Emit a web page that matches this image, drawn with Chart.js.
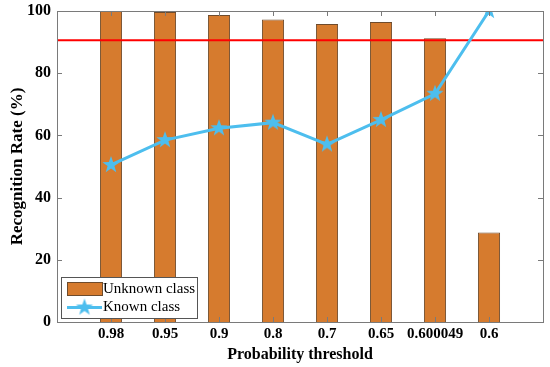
<!DOCTYPE html>
<html>
<head>
<meta charset="utf-8">
<script src="https://cdn.jsdelivr.net/npm/chart.js@4/dist/chart.umd.min.js"></script>
<style>
  html, body { margin: 0; padding: 0; background: #fff; }
  #wrap { width: 550px; height: 367px; }
</style>
</head>
<body>
<div id="wrap"><canvas id="recognitionChart" width="550" height="367"></canvas></div>
<script>
const thresholds = ["0.98", "0.95", "0.9", "0.8", "0.7", "0.65", "0.600049", "0.6"];
const unknownRate = [100, 99.7, 98.7, 97.3, 95.8, 96.5, 91.2, 28.8];
const knownRate = [50.5, 58.5, 62.3, 64.1, 57.1, 65.0, 73.4, 100];
const referenceRate = 90.6;
const yTicks = [0, 20, 40, 60, 80, 100];

const barColor = "#D67B2E";
const barEdge = "#6E4B2C";
const lineColor = "#4DBEEE";
const axisColor = "#7a7a7a";
const serif = "'Liberation Serif', 'Times New Roman', serif";

// filled pentagram marker, like matlab's 'p'
function makeStar(r, color) {
    const c = document.createElement("canvas");
    const s = Math.ceil(r * 2 + 2);
    c.width = s;
    c.height = s;
    const g = c.getContext("2d");
    g.beginPath();
    for (let i = 0; i < 10; i++) {
        const rad = i % 2 === 0 ? r : r * 0.4;
        const a = -Math.PI / 2 + i * Math.PI / 5;
        const px = s / 2 + rad * Math.cos(a);
        const py = s / 2 + rad * Math.sin(a);
        if (i === 0) g.moveTo(px, py); else g.lineTo(px, py);
    }
    g.closePath();
    g.fillStyle = color;
    g.fill();
    return c;
}
const starMarker = makeStar(9, lineColor);

// position on x axis: categories sit at 1..n, axis runs 0..n+1
const xPos = thresholds.map((_, i) => i + 1);

// inner tick marks on all four sides + box
const boxTicks = {
    id: "boxTicks",
    afterDraw(chart) {
        const { ctx, chartArea: a, scales } = chart;
        ctx.save();
        ctx.strokeStyle = axisColor;
        ctx.lineWidth = 1;
        ctx.strokeRect(a.left + 0.5, a.top + 0.5, a.right - a.left, a.bottom - a.top);
        ctx.beginPath();
        yTicks.forEach(v => {
            const y = Math.round(scales.y.getPixelForValue(v)) + 0.5;
            ctx.moveTo(a.left, y); ctx.lineTo(a.left + 5, y);
            ctx.moveTo(a.right, y); ctx.lineTo(a.right - 5, y);
        });
        xPos.forEach(v => {
            const x = Math.round(scales.x.getPixelForValue(v)) + 0.5;
            ctx.moveTo(x, a.bottom); ctx.lineTo(x, a.bottom - 5);
            ctx.moveTo(x, a.top); ctx.lineTo(x, a.top + 5);
        });
        ctx.stroke();
        ctx.restore();
    }
};

// legend box inside the axes, bottom left
const boxLegend = {
    id: "boxLegend",
    afterDraw(chart) {
        const { ctx, chartArea: a } = chart;
        const ds = chart.data.datasets;
        const x0 = a.left + 4, y0 = a.bottom - 45, w = 136, h = 41;
        ctx.save();
        ctx.fillStyle = "#fff";
        ctx.fillRect(x0, y0, w, h);
        ctx.strokeStyle = "#555";
        ctx.lineWidth = 1;
        ctx.strokeRect(x0 + 0.5, y0 + 0.5, w, h);

        ctx.fillStyle = ds[0].backgroundColor;
        ctx.fillRect(x0 + 6, y0 + 5, 35, 13);
        ctx.strokeStyle = ds[0].borderColor;
        ctx.strokeRect(x0 + 6.5, y0 + 5.5, 35, 13);

        const ly = y0 + 30.5;
        ctx.strokeStyle = ds[1].borderColor;
        ctx.lineWidth = 3;
        ctx.beginPath();
        ctx.moveTo(x0 + 6, ly); ctx.lineTo(x0 + 41, ly);
        ctx.stroke();
        ctx.drawImage(starMarker, x0 + 23.5 - starMarker.width / 2, ly - starMarker.height / 2);

        ctx.fillStyle = "#000";
        ctx.font = "15px " + serif;
        ctx.textBaseline = "middle";
        ctx.fillText(ds[0].label, x0 + 42, y0 + 12);
        ctx.fillText(ds[1].label, x0 + 42, ly);
        ctx.restore();
    }
};

new Chart(document.getElementById("recognitionChart"), {
    type: "bar",
    data: {
        datasets: [
            {
                type: "bar",
                label: "Unknown class",
                data: xPos.map((x, i) => ({ x: x, y: unknownRate[i] })),
                backgroundColor: barColor,
                borderColor: barEdge,
                borderWidth: 1,
                barPercentage: 0.41,
                categoryPercentage: 1,
                order: 3,
            },
            {
                type: "line",
                label: "Known class",
                data: xPos.map((x, i) => ({ x: x, y: knownRate[i] })),
                borderColor: lineColor,
                backgroundColor: lineColor,
                borderWidth: 3,
                pointStyle: starMarker,
                tension: 0,
                order: 1,
            },
            {
                type: "line",
                label: "reference",
                data: [{ x: 0, y: referenceRate }, { x: thresholds.length + 1, y: referenceRate }],
                borderColor: "#FF0000",
                borderWidth: 2,
                pointRadius: 0,
                order: 2,
            },
        ],
    },
    options: {
        responsive: false,
        animation: false,
        layout: { padding: { top: 11, right: 7, left: 0, bottom: 0 } },
        plugins: {
            legend: { display: false },
            tooltip: { enabled: false },
        },
        scales: {
            x: {
                type: "linear",
                offset: false,
                min: 0,
                max: thresholds.length + 1,
                afterBuildTicks: (scale) => { scale.ticks = xPos.map(v => ({ value: v })); },
                afterFit: (scale) => { scale.height = 45; scale.paddingLeft = 0; scale.paddingRight = 0; },
                grid: { display: false, drawTicks: false, offset: false },
                border: { display: false },
                ticks: {
                    autoSkip: false,
                    maxRotation: 0,
                    padding: 3,
                    color: "#000",
                    font: { family: serif, size: 15, weight: "bold" },
                    callback: (v) => thresholds[v - 1],
                },
                title: {
                    display: true,
                    text: "Probability threshold",
                    color: "#000",
                    font: { family: serif, size: 16, weight: "bold" },
                    padding: { top: 0, bottom: 3 },
                },
            },
            y: {
                min: 0,
                max: 100,
                afterBuildTicks: (scale) => { scale.ticks = yTicks.map(v => ({ value: v })); },
                afterFit: (scale) => { scale.width = 57; scale.paddingTop = 0; scale.paddingBottom = 0; },
                grid: { display: false, drawTicks: false },
                border: { display: false },
                ticks: {
                    padding: 6,
                    color: "#000",
                    font: { family: serif, size: 16, weight: "bold" },
                },
                title: {
                    display: true,
                    text: "Recognition Rate (%)",
                    color: "#000",
                    font: { family: serif, size: 17, weight: "bold" },
                    padding: { top: 7, bottom: 0 },
                },
            },
        },
    },
    plugins: [boxTicks, boxLegend],
});
</script>
</body>
</html>
